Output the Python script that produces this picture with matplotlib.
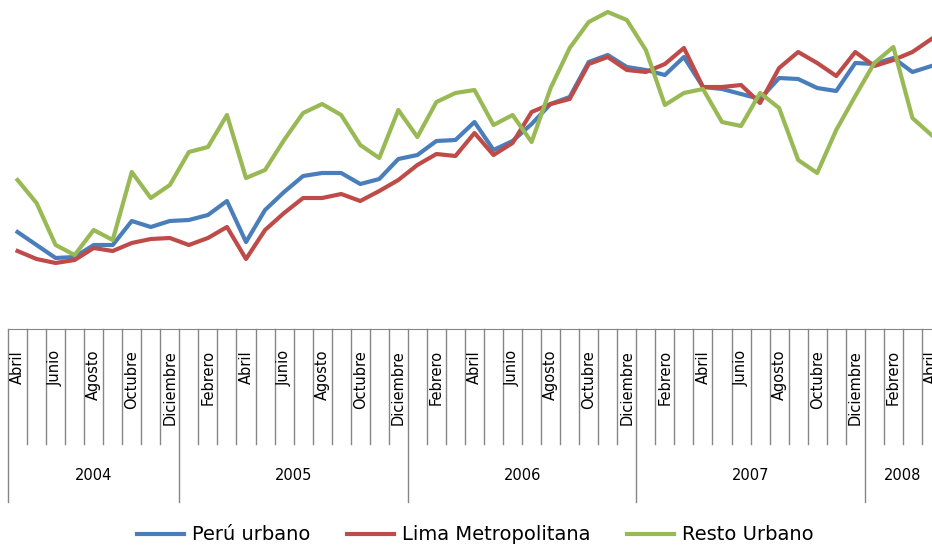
import numpy as np
import matplotlib
matplotlib.use('Agg')
import matplotlib.pyplot as plt
import matplotlib.transforms as mtransforms

# meses abril 2004 - abril 2008
nombres_mes = ['Enero', 'Febrero', 'Marzo', 'Abril', 'Mayo', 'Junio', 'Julio',
               'Agosto', 'Septiembre', 'Octubre', 'Noviembre', 'Diciembre']
anios = ['2004', '2005', '2006', '2007', '2008']
meses_por_anio = [9, 12, 12, 12, 4]
mes_inicial = 3  # abril

# valores (escala del eje sin rotular)
peru_urbano = [97, 84, 71, 72, 84, 84, 108, 102, 108, 109, 114, 128, 87, 119, 137, 153, 156,
               156, 145, 150, 170, 174, 188, 189, 207, 179, 188, 205, 225, 232, 267, 274, 262,
               259, 254, 272, 242, 240, 235, 230, 251, 250, 241, 238, 266, 265, 271, 257, 263]
lima_metropolitana = [78, 70, 66, 69, 81, 78, 86, 90, 91, 84, 91, 102, 70, 99, 116, 131, 131,
                      135, 128, 138, 149, 164, 175, 173, 196, 174, 186, 217, 225, 230, 265, 272, 259,
                      257, 265, 281, 242, 242, 244, 226, 261, 277, 266, 253, 277, 263, 269, 277, 290]
resto_urbano = [149, 126, 84, 74, 99, 89, 157, 131, 144, 177, 182, 214, 151, 159, 189, 216, 225,
                214, 184, 171, 219, 192, 227, 236, 239, 204, 214, 187, 241, 281, 307, 317, 309,
                279, 224, 236, 240, 207, 203, 236, 221, 169, 156, 199, 233, 266, 282, 211, 194]

series = [('Perú urbano', peru_urbano, '#4a7ebb'),
          ('Lima Metropolitana', lima_metropolitana, '#be4b48'),
          ('Resto Urbano', resto_urbano, '#98b954')]

W, H = 932, 546
fig = plt.figure(figsize=(W / 100, H / 100), dpi=100)
ax_left, ax_right, ax_bottom, ax_top = 8, 932, 329, 0
ax = fig.add_axes([ax_left / W, (H - ax_bottom) / H,
                   (ax_right - ax_left) / W, (ax_bottom - ax_top) / H])

n = len(peru_urbano)
x = np.arange(n)
handles = []
for nombre, vals, color in series:
    h, = ax.plot(x, vals, color=color, lw=3.0, solid_joinstyle='round', label=nombre)
    handles.append(h)

cell = 19.04
ax.set_xlim(-0.5, -0.5 + (ax_right - ax_left) / cell)
ax.set_ylim(0, ax_bottom - ax_top)
for s in ['top', 'left', 'right']:
    ax.spines[s].set_visible(False)
ax.spines['bottom'].set_color('#868686')
ax.set_xticks([])
ax.set_yticks([])

# eje de categorias en dos niveles
trans = mtransforms.blended_transform_factory(ax.transData, fig.transFigure)
fy = lambda px: (H - px) / H
gris = '#868686'

etiquetas = []
for k in range(n):
    etiquetas.append(nombres_mes[(mes_inicial + k) % 12])

limites_anio = np.cumsum([0] + meses_por_anio) - 0.5
for k in range(n + 1):
    xb = k - 0.5
    if xb in limites_anio:
        ax.plot([xb, xb], [fy(329), fy(502)], color=gris, lw=1, transform=trans, clip_on=False)
    else:
        ax.plot([xb, xb], [fy(329), fy(444)], color=gris, lw=1, transform=trans, clip_on=False)

for k in range(0, n, 2):
    ax.text(k, fy(350), etiquetas[k], rotation=90, ha='center', va='top',
            fontsize=10.5, color='black', transform=trans, clip_on=False)

for j, anio in enumerate(anios):
    xc = (limites_anio[j] + limites_anio[j + 1]) / 2
    ax.text(xc, fy(476), anio, ha='center', va='center', fontsize=10.5,
            color='black', transform=trans, clip_on=False)

fig.legend(handles=handles, loc='center', bbox_to_anchor=(0.51, fy(535)), ncol=3,
           frameon=False, fontsize=14, handlelength=2.4, handletextpad=0.4,
           columnspacing=1.9)

fig.savefig('out.png', dpi=100)
